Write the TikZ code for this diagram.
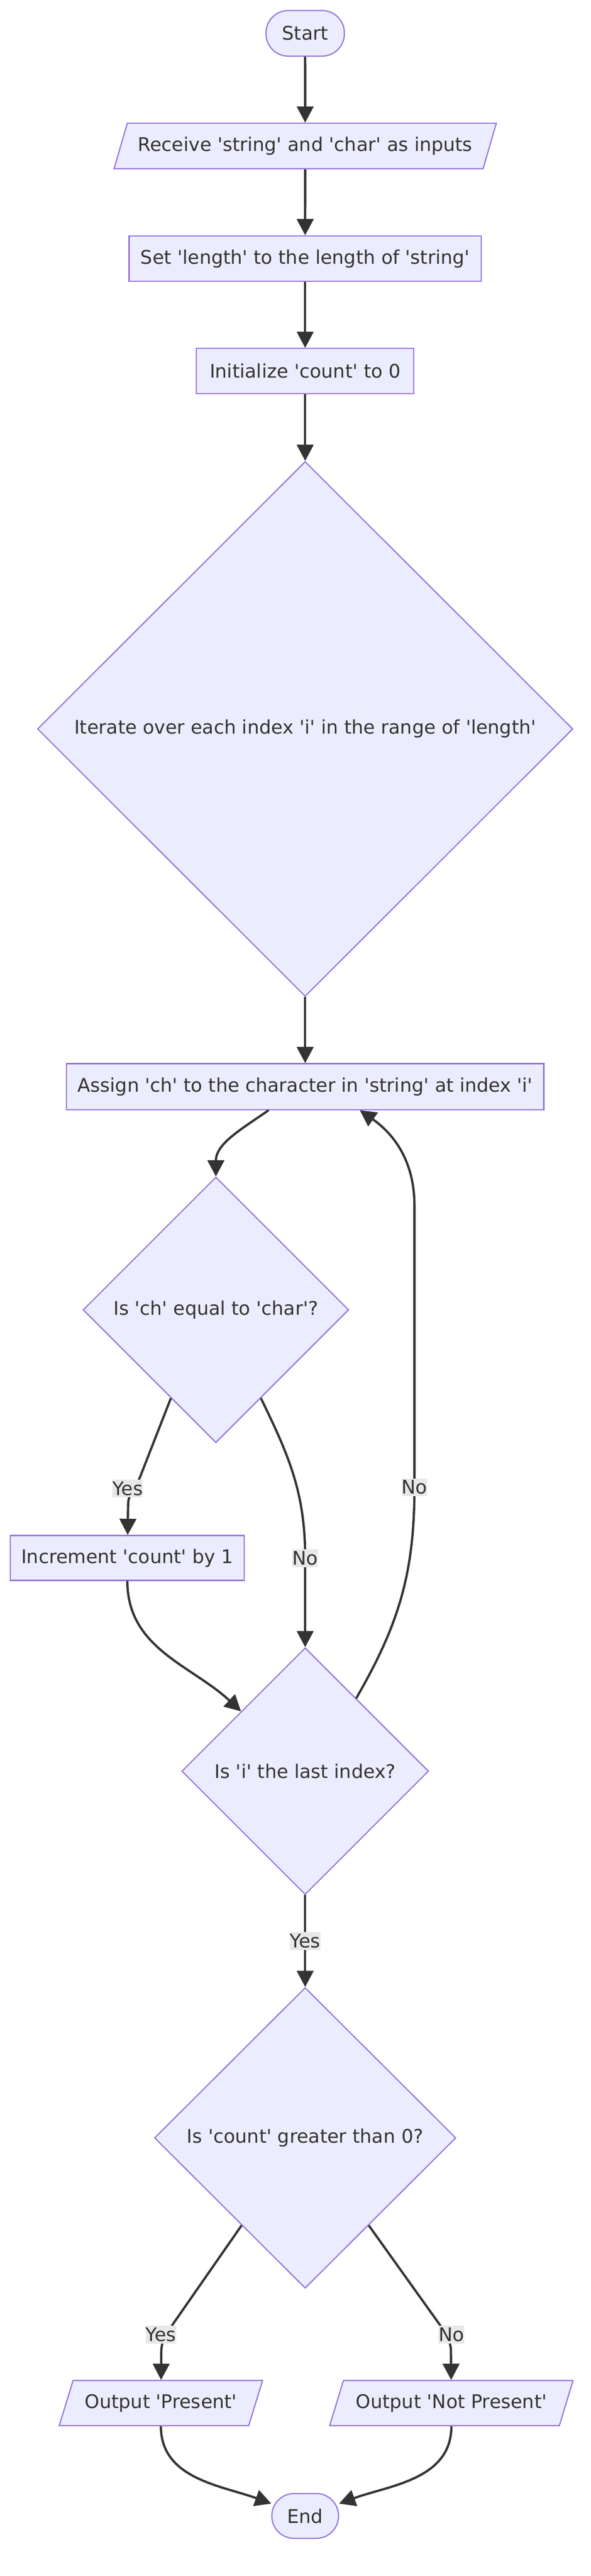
\documentclass[tikz,border=0pt]{standalone}
\usepackage{fontspec}
\newfontfamily\dejavu{DejaVu Sans}
\usepackage{tikz}
\usetikzlibrary{arrows.meta,calc,shapes.geometric}
\definecolor{nodefill}{HTML}{ECECFF}
\definecolor{nodeline}{HTML}{9370DB}
\definecolor{edgeline}{HTML}{333333}
\definecolor{lblfill}{HTML}{E8E8E8}

\begin{document}
\begin{tikzpicture}[
	font=\dejavu\fontsize{14.2}{16}\selectfont, text=edgeline,
	>={Triangle[length=0.43cm,width=0.44cm]},
	box/.style={draw=nodeline, fill=nodefill, line width=0.03cm, inner sep=0.1cm},
	term/.style={box, rounded corners=0.59cm},
	io/.style={box, trapezium, trapezium left angle=63.6, trapezium right angle=116.4, trapezium stretches=true},
	cond/.style={box, diamond, aspect=1, inner sep=0pt},
	lbl/.style={fill=lblfill, inner xsep=0pt, inner ysep=0.05cm},
	flow/.style={->, draw=edgeline, line width=0.06cm}]
	\useasboundingbox (0,0) rectangle (15.68,-68.38);
	
	\node[term, minimum width=2.08cm, minimum height=1.21cm] (0) at (8.1,-0.885) {Start};
	\node[io, minimum width=10.15cm, minimum height=1.21cm] (1) at (8.1,-3.875) {Receive 'string' and 'char' as inputs};
	\node[box, minimum width=9.35cm, minimum height=1.21cm] (2) at (8.1,-6.865) {Set 'length' to the length of 'string'};
	\node[box, minimum width=5.77cm, minimum height=1.2cm] (3) at (8.1,-9.85) {Initialize 'count' to 0};
	
	\node[cond, minimum width=14.21cm, minimum height=14.2cm] (4) at (8.1,-19.35) {Iterate over each index 'i' in the range of 'length'};
	\node[box, minimum width=12.67cm, minimum height=1.22cm] (5) at (8.1,-28.845) {Assign 'ch' to the character in 'string' at index 'i'};
	
	\node[cond, minimum width=7.05cm, minimum height=7.05cm] (6) at (5.73,-34.77) {Is 'ch' equal to 'char'?};
	\node[box, minimum width=6.21cm, minimum height=1.19cm] (7) at (3.38,-41.355) {Increment 'count' by 1};
	\node[cond, minimum width=6.55cm, minimum height=6.55cm] (8) at (8.1,-47.015) {Is 'i' the last index?};
	
	\node[cond, minimum width=8cm, minimum height=7.98cm] (9) at (8.1,-56.75) {Is 'count' greater than 0?};
	\node[io, minimum width=5.4cm, minimum height=1.2cm] (10) at (4.27,-63.79) {Output 'Present'};
	\node[io, minimum width=6.47cm, minimum height=1.2cm] (11) at (11.98,-63.79) {Output 'Not Present'};
	\node[term, minimum width=1.77cm, minimum height=1.19cm] (12) at (8.1,-66.785) {End};
	
	\draw[flow] (0) -- (1);
	\draw[flow] (1) -- (2);
	\draw[flow] (2) -- (3);
	\draw[flow] (3) -- (4);
	\draw[flow] (4) -- (5);
	\draw[flow] ([xshift=-0.97cm]5.south) to[out=-145, in=90] (6);
	
	\draw[flow] (6.243) -- (3.72,-39.2) to[out=-112, in=90] (3.4,-39.95) -- (7) node[lbl] at (3.39,-39.51) {Yes};
	\draw[flow] (6.297) to[out=-64, in=90] (8.1,-41.36) node[lbl] {No} -- (8);
	\draw[flow] (7) to[out=-90, in=137] (8);
	\draw[flow] (8.55) to[out=60, in=-90] (11,-39.48) node[lbl] {No} -- (11,-32) to[out=90, in=-35] ([xshift=1.45cm]5.south);
	\draw[flow] (8) -- node[lbl] {Yes} (9);
	
	\draw[flow] (9.234) -- (4.62,-61.65) to[out=-124, in=90] (4.28,-62.45) -- (10) node[lbl] at (4.27,-61.97) {Yes};
	\draw[flow] (9.306) -- (11.63,-61.65) to[out=-55, in=90] (11.97,-62.45) -- (11) node[lbl] at (11.98,-61.97) {No};
	\draw[flow] (10) to[out=-90, in=160] (12);
	\draw[flow] (11) to[out=-90, in=20] (12);
\end{tikzpicture}
\end{document}
